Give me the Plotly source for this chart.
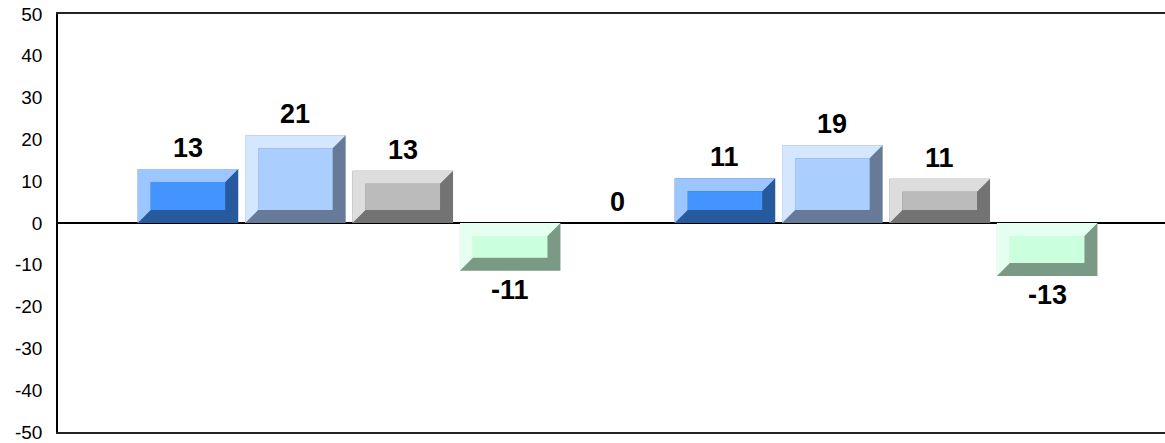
import plotly.graph_objects as go

# ---- data ----
positions = [0, 1, 2, 3, 4, 5, 6, 7, 8]
values = [12.9, 21.0, 12.5, -11.4, 0.0, 10.7, 18.6, 10.6, -12.7]
labels = ["13", "21", "13", "-11", "0", "11", "19", "11", "-13"]
y_ticks = [-50, -40, -30, -20, -10, 0, 10, 20, 30, 40, 50]
y_tick_text = ["-50", "-40", "-30", "-20", "-10", "0", "10", "20", "30", "40", "50"]

# ---- styling ----
light_cols = ["#9cc6ff", "#d5e6ff", "#dddddd", "#e5fff0", "#9cc6ff",
              "#9cc6ff", "#d5e6ff", "#dddddd", "#e5fff0"]
face_cols = ["#4394ff", "#aacfff", "#bbbbbb", "#ccffdd", "#4394ff",
             "#4394ff", "#aacfff", "#bbbbbb", "#ccffdd"]
dark_cols = ["#265a9c", "#677b98", "#737373", "#7b9a86", "#265a9c",
             "#265a9c", "#677b98", "#737373", "#7b9a86"]

W, H = 1165, 443
ML, MR, MT, MB = 58, 0, 14, 11
x_range = [-1.2104, 9.097]
y_range = [-50, 50]
bar_w = 0.936
bevel_px = 13

plot_w = W - ML - MR
plot_h = H - MT - MB
dx = bevel_px * (x_range[1] - x_range[0]) / plot_w
dy = bevel_px * (y_range[1] - y_range[0]) / plot_h

fig = go.Figure()

# base bars (dark shade = bottom/right bevel)
fig.add_trace(go.Bar(
    x=positions, y=values, width=bar_w,
    marker=dict(color=dark_cols, line=dict(width=0)),
    hoverinfo="skip", showlegend=False,
))

# bevel highlight + face, derived from the bar values
for x, v, lc, fc in zip(positions, values, light_cols, face_cols):
    if v == 0:
        continue
    x0, x1 = x - bar_w / 2, x + bar_w / 2
    yb, yt = min(0, v), max(0, v)
    fig.add_trace(go.Scatter(
        x=[x0, x0, x1, x1 - dx, x0 + dx, x0 + dx, x0],
        y=[yb, yt, yt, yt - dy, yt - dy, yb + dy, yb],
        fill="toself", fillcolor=lc, mode="lines", line=dict(width=0),
        hoverinfo="skip", showlegend=False,
    ))
    fig.add_trace(go.Scatter(
        x=[x0 + dx, x1 - dx, x1 - dx, x0 + dx, x0 + dx],
        y=[yb + dy, yb + dy, yt - dy, yt - dy, yb + dy],
        fill="toself", fillcolor=fc, mode="lines", line=dict(width=0),
        hoverinfo="skip", showlegend=False,
    ))

# value labels
for x, v, t in zip(positions, values, labels):
    pos = v >= 0
    fig.add_annotation(
        x=x, y=v, text=t, showarrow=False,
        xanchor="center", yanchor="bottom" if pos else "top",
        yshift=4 if pos else -2,
        font=dict(family="Liberation Sans, Arial, sans-serif", size=27,
                  color="black", weight="bold"),
    )

fig.update_layout(
    width=W, height=H,
    margin=dict(l=ML, r=MR, t=MT, b=MB, pad=0, autoexpand=False),
    paper_bgcolor="white", plot_bgcolor="white",
    showlegend=False,
    xaxis=dict(range=x_range, showticklabels=False, ticks="",
               showgrid=False, zeroline=False, automargin=False,
               showline=True, mirror=True, linecolor="#222222", linewidth=1.5),
    yaxis=dict(range=y_range, tickvals=y_ticks, ticktext=y_tick_text,
               ticks="outside", ticklen=10, automargin=False,
               tickcolor="rgba(0,0,0,0)",
               tickfont=dict(family="Liberation Sans, Arial, sans-serif",
                             size=19, color="black"),
               showgrid=False, zeroline=True, zerolinecolor="black",
               zerolinewidth=2,
               showline=True, linecolor="black", linewidth=1.5),
)

fig.write_html(
    "out.html",
    config={"displayModeBar": False},
    post_script="document.body.style.margin='0';document.body.style.padding='0';",
)
